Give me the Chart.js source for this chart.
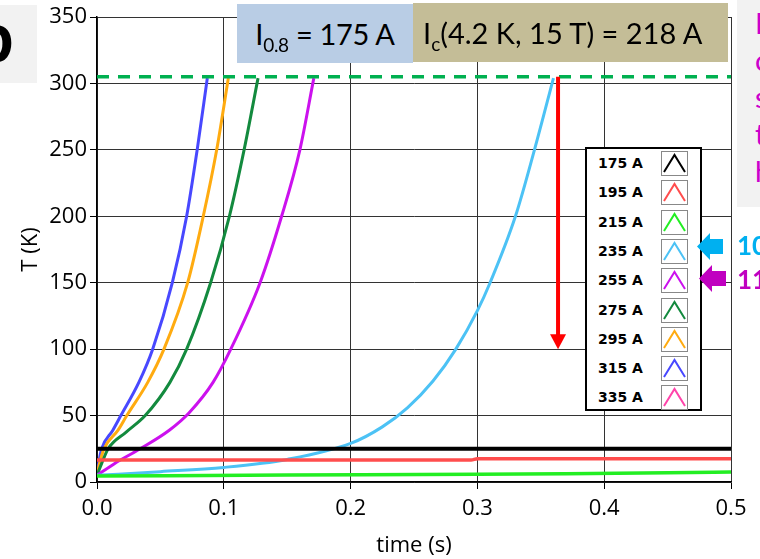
<!DOCTYPE html>
<html><head><meta charset="utf-8">
<script src="https://cdn.jsdelivr.net/npm/chart.js@4.4.0/dist/chart.umd.min.js"></script>
<style>
body{margin:0;background:#fff}
#wrap{position:relative;width:760px;height:559px;overflow:hidden;background:#fff}
#c{position:absolute;left:0;top:0}
.ov{position:absolute;white-space:nowrap;font-family:Lato,sans-serif;color:#000}
.sub{font-size:19px;position:relative;top:7px}
#legend{position:absolute;left:585px;top:147px;width:113px;height:260px;border:2px solid #000;background:#fff}
.lrow{position:absolute;left:0;width:113px;height:29px}
.llab{position:absolute;left:11px;top:6px;font:bold 14px "DejaVu Sans",sans-serif;color:#000}
.licon{position:absolute;left:74px;top:2px;width:25px;height:23px;border:1px solid #888;background:#fff}
</style></head><body>
<div id="wrap">
<canvas id="c" width="760" height="559"></canvas>
<div class="ov" style="left:0;top:5px;width:37px;height:78px;background:#f2f2f2;overflow:hidden"><span style="position:absolute;left:-26px;top:-12px;font:bold 70px Lato,sans-serif">b</span></div>
<div class="ov" style="left:237px;top:4px;width:176px;height:59px;background:#b9cde5;font-size:29px;line-height:59px;text-align:center;letter-spacing:-0.3px">I<span class="sub">0.8</span> = 175 A</div>
<div class="ov" style="left:413px;top:3px;width:315px;height:59px;background:#c4bd97;font-size:29px;line-height:59px;padding-left:10px;box-sizing:border-box">I<span class="sub">c</span>(4.2 K, 15 T) = 218 A</div>
<div class="ov" style="left:737px;top:0;width:30px;height:207px;background:#f2f2f2;overflow:hidden;color:#cc00cc;font-size:29px;line-height:37px;padding:4px 0 0 18px;box-sizing:border-box">P<br>c<br>s<br>t<br>h</div>
<div id="legend"></div>
<svg class="ov" style="left:0;top:0" width="760" height="559">
<polygon points="697,246.5 710,233 710,239 723,239 723,254 710,254 710,260" fill="#00b0f0"/>
<polygon points="699,278.5 712,265 712,271 726,271 726,286 712,286 712,292" fill="#c000c0"/>
</svg>
<div class="ov" style="left:737px;top:229px;font:bold 26px Lato,sans-serif;color:#00b0f0">10</div>
<div class="ov" style="left:737px;top:263px;font:bold 26px Lato,sans-serif;color:#c000c0">11</div>
</div>
<script>
// ---- data ----
const seriesLabels = ['175 A','195 A','215 A','235 A','255 A','275 A','295 A','315 A','335 A'];
const seriesColors = ['#000000','#ff4d4d','#22ee22','#4cc2f5','#cc11ee','#138a3e','#ffab10','#4848ff','#ff44aa'];
const t175 = [0, 0.5];
const T175 = [25, 25];
const t195 = [0, 0.295, 0.3, 0.5];
const T195 = [16.5, 16.5, 17.5, 17.5];
const t215 = [0, 0.15, 0.3, 0.37, 0.45, 0.5];
const T215 = [4.5, 5.2, 5.8, 6.3, 7, 7.5];
const t235 = [0, 0.05, 0.1, 0.15, 0.2, 0.225, 0.245, 0.265, 0.283, 0.3, 0.31, 0.33, 0.345, 0.36];
const T235 = [5, 7.8, 11, 17, 29, 41.5, 56, 76, 100, 129, 150, 200, 250, 304];
const t255 = [0, 0.014, 0.034, 0.057, 0.0725, 0.0915, 0.1055, 0.1286, 0.1456, 0.16, 0.171];
const T255 = [5, 14, 25, 39, 52, 75, 100, 150, 200, 250, 304];
const t275 = [0, 0.0037, 0.0088, 0.023, 0.038, 0.0575, 0.0707, 0.0896, 0.1044, 0.116, 0.127];
const T275 = [5, 14, 25, 37.5, 50, 75, 100, 150, 200, 250, 304];
const t295 = [0, 0.002, 0.0055, 0.0166, 0.0235, 0.040, 0.0528, 0.0715, 0.0838, 0.0944, 0.1036];
const T295 = [5, 14, 25, 39, 50, 75, 100, 150, 200, 250, 304];
const t315 = [0, 0.0015, 0.0037, 0.0125, 0.0188, 0.033, 0.0439, 0.0594, 0.0707, 0.079, 0.087];
const T315 = [5, 15, 25, 39, 50, 75, 100, 150, 200, 250, 304];
const t335 = [];
const T335 = [];
const thresholdT = 305;          // dashed green line
const arrowTime = 0.3636;        // red arrow
const arrowFromT = 305, arrowToT = 100;
const xTickLabels = ['0.0','0.1','0.2','0.3','0.4','0.5'];
const yTickLabels = ['0','50','100','150','200','250','300','350'];

const tArr = [t175,t195,t215,t235,t255,t275,t295,t315,t335];
const TArr = [T175,T195,T215,T235,T255,T275,T295,T315,T335];
const widths = [4,3.5,3.5,3,3,3,3,3,3];

const datasets = [{
  label: 'threshold', data: [{x:0,y:thresholdT},{x:0.5,y:thresholdT}],
  borderColor:'#00b050', borderWidth:3.5, borderDash:[12,9], pointRadius:0, order:-1
}];
tArr.forEach((ts,i)=>{
  datasets.push({
    label: seriesLabels[i],
    data: ts.map((t,j)=>({x:t,y:TArr[i][j]})),
    borderColor: seriesColors[i], borderWidth: widths[i], pointRadius:0,
    cubicInterpolationMode:'monotone', fill:false, order: i===0?0:1
  });
});

const redArrow = {
  id:'redArrow',
  afterDatasetsDraw(chart){
    const {ctx, scales:{x,y}} = chart;
    const px = x.getPixelForValue(arrowTime);
    const y0 = y.getPixelForValue(arrowFromT), y1 = y.getPixelForValue(arrowToT);
    ctx.save();
    ctx.strokeStyle='#ff0000'; ctx.fillStyle='#ff0000'; ctx.lineWidth=4;
    ctx.beginPath(); ctx.moveTo(px,y0); ctx.lineTo(px,y1-12); ctx.stroke();
    ctx.beginPath(); ctx.moveTo(px-8,y1-15); ctx.lineTo(px+8,y1-15); ctx.lineTo(px,y1); ctx.closePath(); ctx.fill();
    ctx.restore();
  }
};

new Chart(document.getElementById('c'), {
  type:'line',
  data:{datasets},
  plugins:[redArrow],
  options:{
    responsive:false, animation:false,
    layout:{padding:{top:17,right:29,left:0,bottom:0}},
    plugins:{legend:{display:false}, tooltip:{enabled:false}},
    scales:{
      x:{type:'linear', min:0, max:0.5,
        afterFit(s){ s.height = 77; },
        ticks:{stepSize:0.1, color:'#000', padding:7, font:{family:'"Open Sans"', size:22},
          callback:(v,i)=>xTickLabels[i]},
        grid:{color:'#333', lineWidth:1, tickLength:7, tickColor:'#000'},
        border:{color:'#000', width:1.5},
        title:{display:true, text:'time (s)', color:'#000', font:{family:'"Open Sans"', size:22}, padding:{top:0,bottom:0}}
      },
      y:{type:'linear', min:0, max:350,
        afterFit(s){ s.width = 97; },
        ticks:{stepSize:50, color:'#000', padding:3, font:{family:'"Open Sans"', size:22},
          callback:(v,i)=>yTickLabels[i]},
        grid:{color:'#333', lineWidth:1, tickLength:7, tickColor:'#000'},
        border:{color:'#000', width:1.5},
        title:{display:true, text:'T (K)', color:'#000', font:{family:'"Open Sans"', size:22}, padding:{top:18,bottom:0}}
      }
    }
  }
});

// legend built from the series arrays
const lg = document.getElementById('legend');
seriesLabels.forEach((lab,i)=>{
  const row = document.createElement('div');
  row.className='lrow'; row.style.top = (i*29.3)+'px';
  row.innerHTML = '<div class="llab">'+lab+'</div><div class="licon"><svg width="25" height="23"><polyline points="2,20 12.5,3 23,20" fill="none" stroke="'+seriesColors[i]+'" stroke-width="2"/></svg></div>';
  lg.appendChild(row);
});
</script>
</body></html>
